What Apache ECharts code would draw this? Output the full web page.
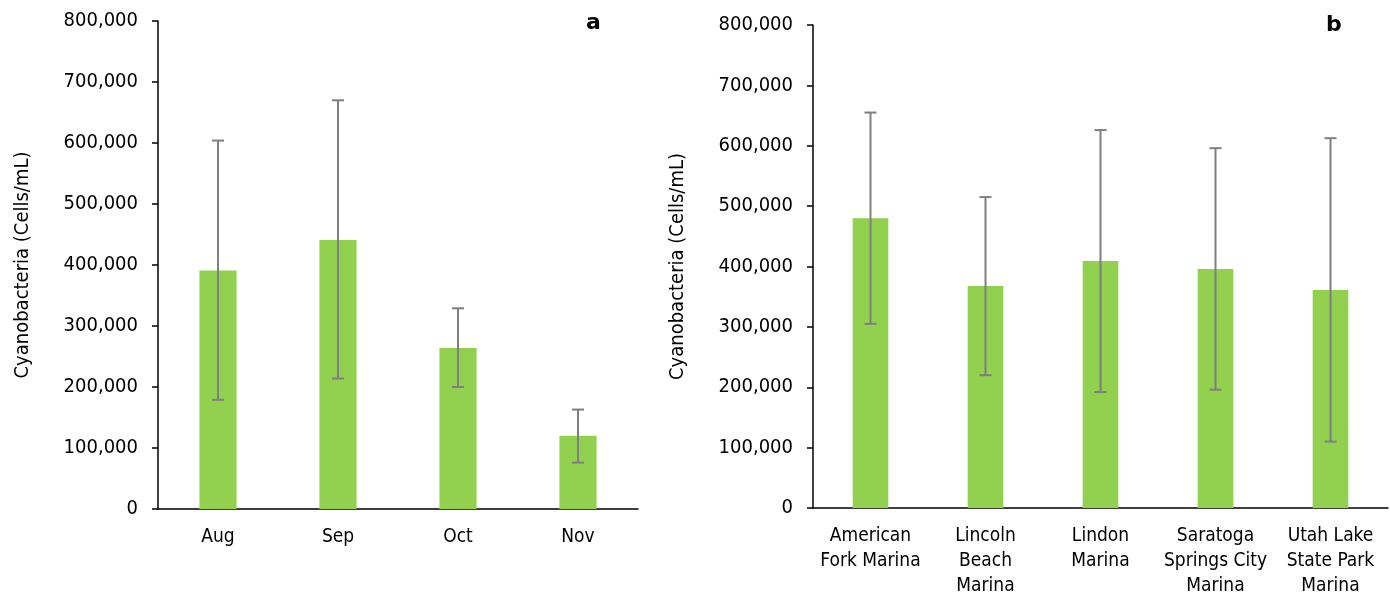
<!DOCTYPE html>
<html>
<head>
<meta charset="utf-8">
<script src="https://cdn.jsdelivr.net/npm/echarts@6/dist/echarts.min.js"></script>
<style>
html,body{margin:0;padding:0;background:#fff;}
#chart{width:1390px;height:599px;}
</style>
</head>
<body>
<div id="chart"></div>
<script>
// Panel a: by month
const monthCats = ['Aug', 'Sep', 'Oct', 'Nov'];
const monthMeans = [391000, 441000, 264000, 120000];
const monthLow = [179000, 214000, 200000, 76000];
const monthHigh = [604000, 670000, 329000, 163000];

// Panel b: by site
const siteCats = ['American\nFork Marina', 'Lincoln\nBeach\nMarina', 'Lindon\nMarina', 'Saratoga\nSprings City\nMarina', 'Utah Lake\nState Park\nMarina'];
const siteMeans = [480000, 367500, 409000, 396000, 361000];
const siteLow = [305000, 220000, 192000, 196000, 110000];
const siteHigh = [655000, 515000, 626000, 596000, 612500];

const yTicks = [0, 100000, 200000, 300000, 400000, 500000, 600000, 700000, 800000];
const yName = 'Cyanobacteria (Cells/mL)';
const panelLabels = ['a', 'b'];

const FONT = '"DejaVu Sans Condensed", "DejaVu Sans"';
const BAR_COLOR = '#92d050';
const ERR_COLOR = '#7f7f7f';

function errData(lo, hi) { return lo.map((v, i) => [i, v, hi[i]]); }

function errRender(params, api) {
  const x = api.value(0);
  const pLo = api.coord([x, api.value(1)]);
  const pHi = api.coord([x, api.value(2)]);
  const hw = 6;
  const st = { stroke: ERR_COLOR, lineWidth: 2 };
  return {
    type: 'group',
    children: [
      { type: 'line', shape: { x1: pLo[0], y1: pLo[1], x2: pHi[0], y2: pHi[1] }, style: st },
      { type: 'line', shape: { x1: pHi[0] - hw, y1: pHi[1], x2: pHi[0] + hw, y2: pHi[1] }, style: st },
      { type: 'line', shape: { x1: pLo[0] - hw, y1: pLo[1], x2: pLo[0] + hw, y2: pLo[1] }, style: st }
    ]
  };
}

function xAxisCfg(gridIndex, cats) {
  return {
    type: 'category', gridIndex: gridIndex, data: cats,
    axisLine: { lineStyle: { color: '#000', width: 1.5 } },
    axisTick: { show: false },
    axisLabel: { color: '#000', fontFamily: FONT, fontSize: 19, lineHeight: 25, margin: 16, interval: 0 }
  };
}
function yAxisCfg(gridIndex, margin) {
  return {
    type: 'value', gridIndex: gridIndex, min: yTicks[0], max: yTicks[yTicks.length - 1], interval: 100000,
    name: yName, nameLocation: 'middle', nameRotate: 90, nameGap: 125,
    nameTextStyle: { color: '#000', fontFamily: FONT, fontSize: 20 },
    axisLine: { show: true, lineStyle: { color: '#000', width: 1.5 } },
    axisTick: { show: true, length: 6, lineStyle: { color: '#000', width: 1.5 } },
    splitLine: { show: false },
    axisLabel: { color: '#000', fontFamily: FONT, fontSize: 20, margin: margin,
      formatter: v => v.toLocaleString('en-US') }
  };
}

const chart = echarts.init(document.getElementById('chart'), null, { renderer: 'canvas' });
chart.setOption({
  animation: false,
  backgroundColor: '#fff',
  grid: [
    { left: 158, top: 21, width: 480, height: 488 },
    { left: 813, top: 25, width: 575, height: 483 }
  ],
  xAxis: [xAxisCfg(0, monthCats), xAxisCfg(1, siteCats)],
  yAxis: [yAxisCfg(0, 20), yAxisCfg(1, 20)],
  series: [
    { type: 'bar', xAxisIndex: 0, yAxisIndex: 0, data: monthMeans, barWidth: '31%', itemStyle: { color: BAR_COLOR } },
    { type: 'custom', xAxisIndex: 0, yAxisIndex: 0, data: errData(monthLow, monthHigh), renderItem: errRender, z: 5 },
    { type: 'bar', xAxisIndex: 1, yAxisIndex: 1, data: siteMeans, barWidth: '31%', itemStyle: { color: BAR_COLOR } },
    { type: 'custom', xAxisIndex: 1, yAxisIndex: 1, data: errData(siteLow, siteHigh), renderItem: errRender, z: 5 }
  ],
  graphic: [
    { type: 'text', left: 586, top: 12, style: { text: panelLabels[0], font: 'bold 22px "DejaVu Sans"', fill: '#000' } },
    { type: 'text', left: 1326, top: 14, style: { text: panelLabels[1], font: 'bold 22px "DejaVu Sans"', fill: '#000' } }
  ]
});
</script>
</body>
</html>
